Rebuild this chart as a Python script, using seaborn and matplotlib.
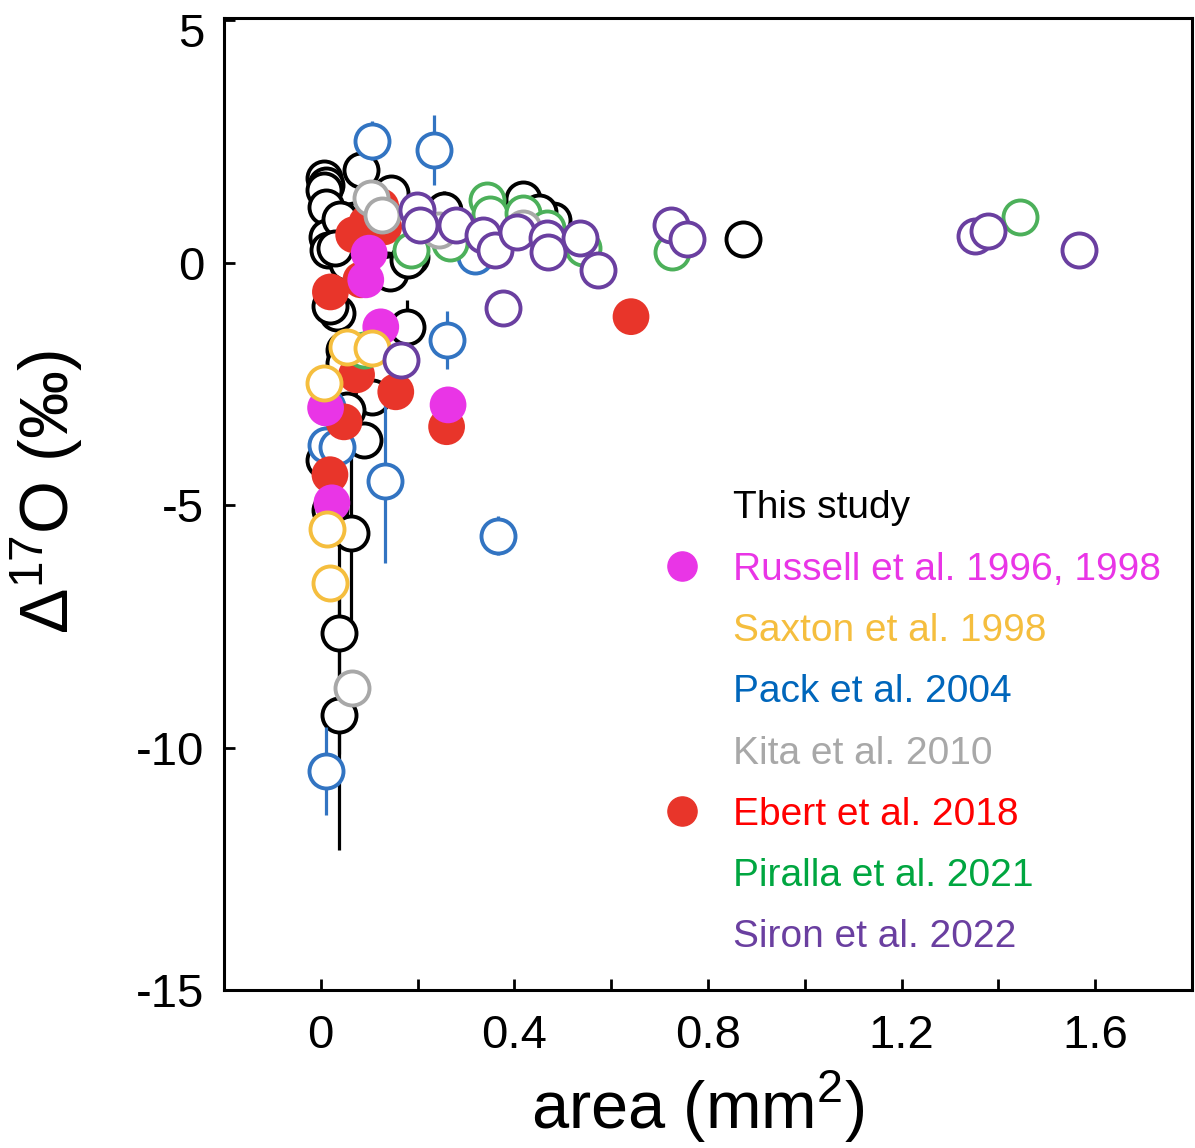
import numpy as np
import pandas as pd
import matplotlib
matplotlib.use("Agg")
import matplotlib.pyplot as plt
import matplotlib.transforms as mtransforms
from matplotlib.lines import Line2D
import seaborn as sns

sns.set_theme(style="white")
plt.rcParams['font.family'] = ['Liberation Sans', 'DejaVu Sans']
plt.rcParams['mathtext.fontset'] = 'custom'
plt.rcParams['mathtext.rm'] = 'Liberation Sans'
plt.rcParams['text.color'] = 'black'
plt.rcParams['axes.labelcolor'] = 'black'

# ---------------- data ----------------
study_x = [0.006, 0.010, 0.006, 0.010, 0.012, 0.015, 0.083, 0.145, 0.068, 0.054, 0.136, 0.033,
           0.020, 0.178, 0.186, 0.254, 0.418, 0.480, 0.450, 0.873, 0.143, 0.180, 0.048, 0.048,
           0.105, 0.054, 0.089, 0.006, 0.020, 0.062, 0.037, 0.037, 0.040, 0.030]
study_y = [1.75, 1.60, 1.50, 1.15, 0.54, 0.27, 1.92, 1.44, 0.89, 0.00, -0.14, -1.03,
           -0.90, -1.32, 0.12, 1.09, 1.32, 0.88, 1.05, 0.50, -0.20, 0.06, -1.80, -2.06,
           -2.76, -3.03, -3.65, -4.06, -5.10, -5.57, -7.63, -9.32, 0.90, 0.30]
study_err = [0.2, 0.2, 0.2, 0.2, 0.2, 0.2, 0.2, 0.2, 0.2, 0.2, 0.2, 0.2,
             0.2, 0.55, 0.2, 0.4, 0.2, 0.2, 0.2, 0.2, 0.2, 0.2, 0.5, 0.2,
             0.2, 0.2, 0.2, 0.2, 0.6, 1.8, 2.5, 2.8, 0.2, 0.2]

russell_x = [0.100, 0.093, 0.124, 0.010, 0.023, 0.263]
russell_y = [0.20, -0.35, -1.32, -2.99, -4.95, -2.93]

saxton_x = [0.054, 0.105, 0.006, 0.012, 0.020]
saxton_y = [-1.73, -1.75, -2.47, -5.50, -6.60]

pack_x = [0.105, 0.234, 0.318, 0.260, 0.132, 0.366, 0.010, 0.010, 0.033, 0.012]
pack_y = [2.52, 2.33, 0.15, -1.60, -4.50, -5.63, -10.48, -3.75, -3.80, -2.97]
pack_err = [0.40, 0.72, 0.35, 0.60, 1.70, 0.40, 0.90, 0.2, 0.2, 0.2]

kita_x = [0.103, 0.126, 0.245, 0.418, 0.064]
kita_y = [1.34, 0.99, 0.68, 0.72, -8.76]

ebert_x = [0.068, 0.130, 0.124, 0.095, 0.083, 0.020, 0.074, 0.155, 0.048, 0.019, 0.260, 0.641]
ebert_y = [0.58, 0.74, 1.16, 0.82, -0.35, -0.60, -2.31, -2.66, -3.28, -4.37, -3.38, -1.11]

piralla_x = [0.089, 0.186, 0.343, 0.350, 0.418, 0.467, 0.267, 0.542, 0.726, 1.445]
piralla_y = [-1.79, 0.27, 1.30, 1.00, 1.03, 0.72, 0.41, 0.31, 0.23, 0.95]

siron_x = [0.198, 0.205, 0.280, 0.335, 0.360, 0.405, 0.467, 0.470, 0.535, 0.573, 0.376,
           0.723, 0.757, 0.165, 1.352, 1.379, 1.567]
siron_y = [1.09, 0.78, 0.78, 0.58, 0.27, 0.64, 0.52, 0.23, 0.52, -0.14, -0.93,
           0.78, 0.49, -2.00, 0.56, 0.66, 0.27]

labels = ["This study", "Russell et al. 1996, 1998", "Saxton et al. 1998", "Pack et al. 2004",
          "Kita et al. 2010", "Ebert et al. 2018", "Piralla et al. 2021", "Siron et al. 2022"]

x_tick_labels = ["0", "0.4", "0.8", "1.2", "1.6"]
y_tick_labels = ["5", "0", "-5", "-10", "-15"]

# ---------------- style ----------------
C_BLACK = "#000000"
C_MAG = "#E935E6"
C_YEL = "#F5BE3E"
C_BLUE = "#3274C2"
C_GREY = "#A8A8A8"
C_RED = "#E8352A"
C_GREEN = "#4CB05A"
C_PURP = "#6A3FA0"
text_colors = ["#000000", "#E935E6", "#F5BE3E", "#0066BB", "#A8A8A8", "#FF0000", "#00A640", "#6A3FA0"]

fig = plt.figure(figsize=(11.95, 11.48), dpi=100)
ax = fig.add_axes([0.1874, 0.1376, 0.8101, 0.8467])

S_OPEN = 600
S_FILL = 700
LW = 2.8

def open_series(x, y, color, z, err=None):
    if err is not None:
        ax.errorbar(x, y, yerr=err, fmt='none', ecolor=color, elinewidth=2.3, capsize=0, zorder=z - 0.5)
    df = pd.DataFrame({"x": x, "y": y})
    sns.scatterplot(data=df, x="x", y="y", ax=ax, s=S_OPEN, facecolor="white",
                    edgecolor=color, linewidth=LW, zorder=z, legend=False)

def filled_series(x, y, color, z):
    df = pd.DataFrame({"x": x, "y": y})
    sns.scatterplot(data=df, x="x", y="y", ax=ax, s=S_FILL, color=color,
                    edgecolor="none", linewidth=0, zorder=z, legend=False)

open_series(study_x, study_y, C_BLACK, 2, study_err)
open_series(pack_x, pack_y, C_BLUE, 3, pack_err)
filled_series(ebert_x, ebert_y, C_RED, 4)
filled_series(russell_x, russell_y, C_MAG, 5)
open_series(piralla_x, piralla_y, C_GREEN, 6)
open_series(saxton_x, saxton_y, C_YEL, 7)
open_series(kita_x, kita_y, C_GREY, 8)
open_series(siron_x, siron_y, C_PURP, 9)

ax.set_xlim(-0.2, 1.8)
ax.set_ylim(-15, 5.05)
ax.set_xticks([0, 0.4, 0.8, 1.2, 1.6])
ax.set_xticklabels(x_tick_labels)
ax.set_xticks([0.2, 0.6, 1.0, 1.4], minor=True)
ax.set_yticks([5, 0, -5, -10, -15])
ax.set_yticklabels(y_tick_labels)
ax.tick_params(axis='both', which='both', direction='in', length=8, width=2,
               labelsize=34, colors='black', bottom=True, left=True, top=False, right=False)
ax.tick_params(axis='x', pad=17)
ax.tick_params(axis='y', pad=14)
for sp in ax.spines.values():
    sp.set_linewidth(2.2)
    sp.set_color('black')

# the top "5" label sits slightly lower in the reference
top_lab = ax.get_yticklabels()[0]
top_lab.set_transform(top_lab.get_transform() +
                      mtransforms.ScaledTranslation(0, -0.10, fig.dpi_scale_trans))

ax.set_xlabel("area (mm$^{\\mathregular{2}}$)", fontsize=48, color='black')
ax.set_ylabel("Δ$^{\\mathregular{17}}$O (‰)", fontsize=49, color='black')
ax.xaxis.set_label_coords(0.489, -0.080)
ax.yaxis.set_label_coords(-0.143, 0.512)

# legend: only filled series show a marker
handles = []
for lab in labels:
    if lab.startswith("Russell"):
        handles.append(Line2D([], [], marker='o', ls='none', color=C_MAG, markersize=21))
    elif lab.startswith("Ebert"):
        handles.append(Line2D([], [], marker='o', ls='none', color=C_RED, markersize=21))
    else:
        handles.append(Line2D([], [], marker='o', ls='none', color='none', markersize=21))
leg = ax.legend(handles, labels, loc='upper left', bbox_to_anchor=(0.417, 0.55),
                frameon=False, fontsize=28, labelspacing=0.65, handletextpad=0.8,
                labelcolor=text_colors, handlelength=1.0)

fig.savefig("out.png", dpi=100)
